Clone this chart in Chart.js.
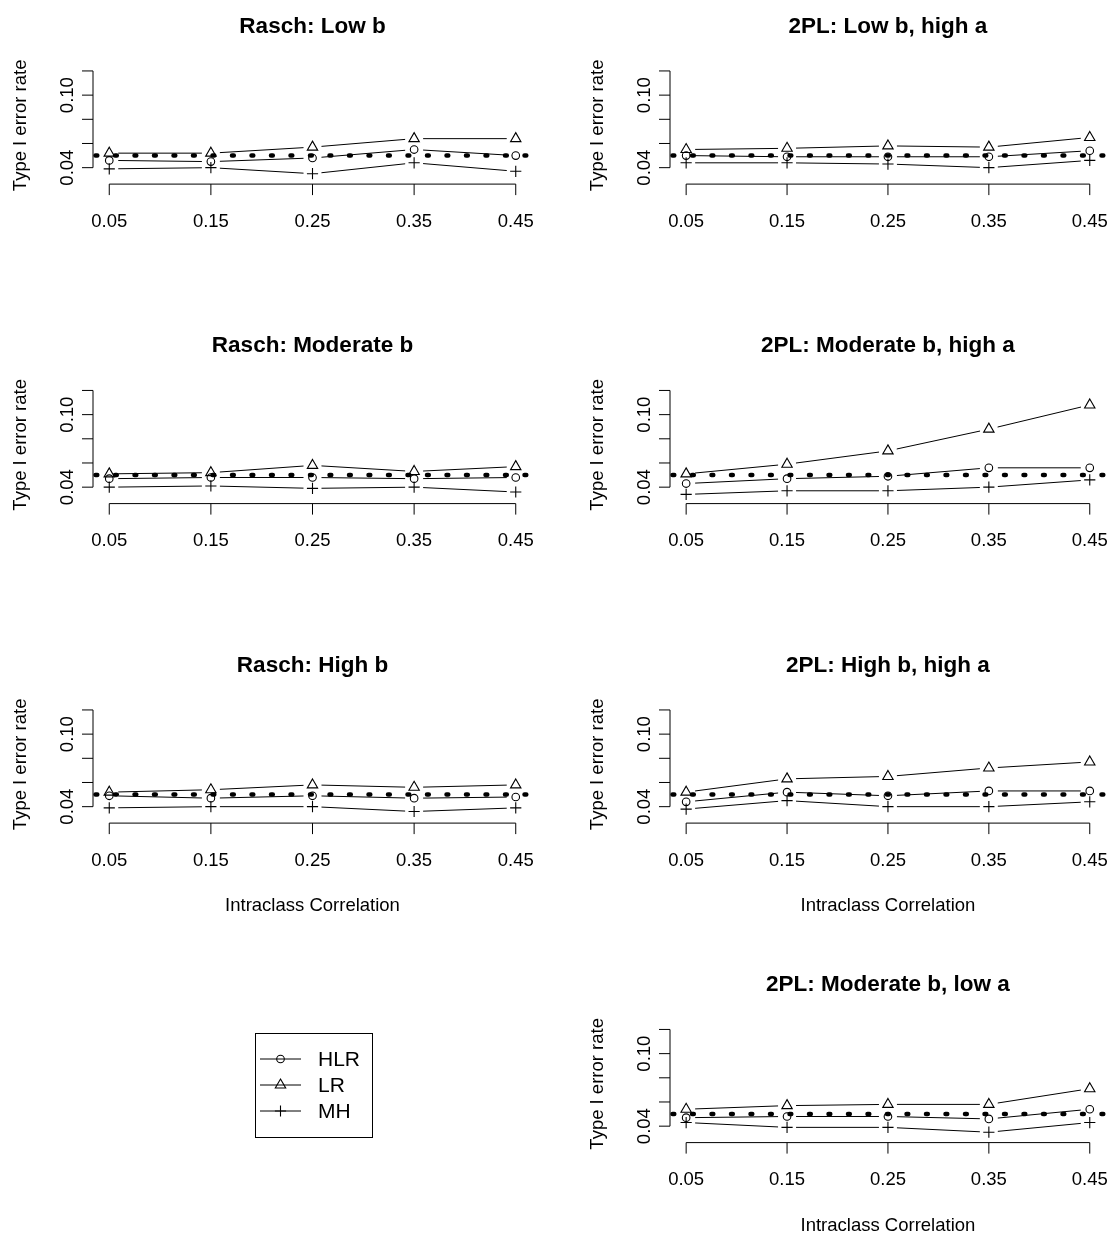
<!DOCTYPE html>
<html><head><meta charset="utf-8">
<script src="https://cdn.jsdelivr.net/npm/chart.js@4/dist/chart.umd.min.js"></script>
<style>
html,body{margin:0;padding:0;background:#fff;}
#wrap{position:relative;width:1113px;height:1234px;background:#fff;}
canvas{position:absolute;left:0;top:0;}
</style></head><body><div id="wrap"></div>
<script>
// ---- data ----
const icc = [0.05, 0.15, 0.25, 0.35, 0.45];
const xTickLabels = ['0.05', '0.15', '0.25', '0.35', '0.45'];
const yTicks = [0.04, 0.06, 0.08, 0.10, 0.12];
const yTickLabels = ['0.04', '', '', '0.10', ''];
const nominalRate = 0.05;
const seriesNames = ['HLR', 'LR', 'MH'];
const panelTitles = ['Rasch: Low b', '2PL: Low b, high a', 'Rasch: Moderate b', '2PL: Moderate b, high a',
  'Rasch: High b', '2PL: High b, high a', '2PL: Moderate b, low a'];
const yAxisTitle = 'Type I error rate';
const xAxisTitle = 'Intraclass Correlation';

const raschLowHLR = [0.046, 0.045, 0.048, 0.055, 0.050];
const raschLowLR  = [0.052, 0.052, 0.057, 0.064, 0.064];
const raschLowMH  = [0.039, 0.040, 0.035, 0.044, 0.037];

const twoLowHighHLR = [0.050, 0.049, 0.049, 0.049, 0.054];
const twoLowHighLR  = [0.055, 0.056, 0.058, 0.057, 0.065];
const twoLowHighMH  = [0.044, 0.044, 0.043, 0.040, 0.046];

const raschModHLR = [0.047, 0.048, 0.048, 0.047, 0.048];
const raschModLR  = [0.051, 0.052, 0.058, 0.053, 0.057];
const raschModMH  = [0.040, 0.041, 0.039, 0.040, 0.036];

const twoModHighHLR = [0.043, 0.047, 0.049, 0.056, 0.056];
const twoModHighLR  = [0.051, 0.059, 0.070, 0.088, 0.108];
const twoModHighMH  = [0.034, 0.037, 0.037, 0.040, 0.046];

const raschHighHLR = [0.049, 0.047, 0.049, 0.047, 0.048];
const raschHighLR  = [0.052, 0.054, 0.058, 0.056, 0.058];
const raschHighMH  = [0.039, 0.040, 0.040, 0.036, 0.039];

const twoHighHighHLR = [0.044, 0.052, 0.049, 0.053, 0.053];
const twoHighHighLR  = [0.052, 0.063, 0.065, 0.072, 0.077];
const twoHighHighMH  = [0.038, 0.045, 0.040, 0.040, 0.044];

const twoModLowHLR = [0.047, 0.048, 0.048, 0.046, 0.054];
const twoModLowLR  = [0.054, 0.057, 0.058, 0.058, 0.071];
const twoModLowMH  = [0.043, 0.039, 0.039, 0.035, 0.043];

const panelSeries = [
  [raschLowHLR, raschLowLR, raschLowMH],
  [twoLowHighHLR, twoLowHighLR, twoLowHighMH],
  [raschModHLR, raschModLR, raschModMH],
  [twoModHighHLR, twoModHighLR, twoModHighMH],
  [raschHighHLR, raschHighLR, raschHighMH],
  [twoHighHighHLR, twoHighHighLR, twoHighHighMH],
  [twoModLowHLR, twoModLowLR, twoModLowMH]
];

// ---- layout / style ----
const W = 1113, H = 1234;
const FONT = '"Liberation Sans", Arial, sans-serif';
const colX = [[93, 532], [670, 1109]];
const rowTop0 = 66.6, rowBot0 = 184.1, rowStep = 319.5;
const panelPos = [[0,0],[0,1],[1,0],[1,1],[2,0],[2,1],[3,1]];
const showXTitle = [false,false,false,false,true,true,true];
const markerStyles = [
  {pointStyle: 'circle', radius: 3.8},
  {pointStyle: 'triangle', radius: 6},
  {pointStyle: 'cross', radius: 5.6}
];
const GAP = 9;

function drawMarker(ctx, style, x, y) {
  ctx.save();
  ctx.strokeStyle = '#000';
  ctx.fillStyle = 'rgba(0,0,0,0)';
  ctx.lineWidth = 1.1;
  Chart.helpers.drawPoint(ctx, {pointStyle: style.pointStyle, radius: style.radius, rotation: 0, borderWidth: 1.1}, x, y);
  ctx.restore();
}

function makePlugin(pi) {
  return {
    id: 'rstyle' + pi,
    beforeDatasetsDraw(chart) {
      const ctx = chart.ctx;
      ctx.save();
      ctx.strokeStyle = '#000';
      ctx.lineWidth = 1;
      chart.data.datasets.forEach((ds, i) => {
        const pts = chart.getDatasetMeta(i).data;
        for (let k = 0; k < pts.length - 1; k++) {
          const a = pts[k], b = pts[k+1];
          const dx = b.x - a.x, dy = b.y - a.y, len = Math.hypot(dx, dy);
          if (len <= 2 * GAP) continue;
          const ux = dx / len, uy = dy / len;
          ctx.beginPath();
          ctx.moveTo(a.x + ux * GAP, a.y + uy * GAP);
          ctx.lineTo(b.x - ux * GAP, b.y - uy * GAP);
          ctx.stroke();
        }
      });
      ctx.restore();
    },
    afterDatasetsDraw(chart) {
      const ctx = chart.ctx;
      const xs = chart.scales.x, ys = chart.scales.y, ca = chart.chartArea;
      ctx.save();
      // nominal reference line
      ctx.strokeStyle = '#000';
      ctx.lineWidth = 4.5;
      ctx.setLineDash([1.8, 17.7]);
      ctx.lineCap = 'round';
      const yr = ys.getPixelForValue(nominalRate);
      ctx.beginPath(); ctx.moveTo(ca.left + 2.5, yr); ctx.lineTo(ca.right, yr); ctx.stroke();
      ctx.setLineDash([]);
      ctx.lineCap = 'butt';
      // y axis
      ctx.lineWidth = 1;
      const yTop = ys.getPixelForValue(yTicks[yTicks.length-1]);
      const yBot = ys.getPixelForValue(yTicks[0]);
      ctx.beginPath(); ctx.moveTo(ca.left, yTop); ctx.lineTo(ca.left, yBot); ctx.stroke();
      yTicks.forEach(v => {
        const y = ys.getPixelForValue(v);
        ctx.beginPath(); ctx.moveTo(ca.left, y); ctx.lineTo(ca.left - 11, y); ctx.stroke();
      });
      ctx.fillStyle = '#000';
      ctx.font = '18.5px ' + FONT;
      ctx.textAlign = 'center';
      ctx.textBaseline = 'alphabetic';
      yTicks.forEach((v, i) => {
        if (!yTickLabels[i]) return;
        const y = ys.getPixelForValue(v);
        ctx.save(); ctx.translate(ca.left - 20.5, y); ctx.rotate(-Math.PI/2);
        ctx.fillText(yTickLabels[i], 0, 0); ctx.restore();
      });
      // x axis
      const x0 = xs.getPixelForValue(icc[0]), x1 = xs.getPixelForValue(icc[icc.length-1]);
      ctx.beginPath(); ctx.moveTo(x0, ca.bottom); ctx.lineTo(x1, ca.bottom); ctx.stroke();
      icc.forEach((v, i) => {
        const x = xs.getPixelForValue(v);
        ctx.beginPath(); ctx.moveTo(x, ca.bottom); ctx.lineTo(x, ca.bottom + 11); ctx.stroke();
        ctx.fillText(xTickLabels[i], x, ca.bottom + 42.5);
      });
      // axis titles
      const cx = (ca.left + ca.right) / 2, cy = (ca.top + ca.bottom) / 2;
      ctx.save(); ctx.translate(ca.left - 67, cy); ctx.rotate(-Math.PI/2);
      ctx.fillText(yAxisTitle, 0, 0); ctx.restore();
      if (showXTitle[pi]) ctx.fillText(xAxisTitle, cx, ca.bottom + 88);
      // main title
      ctx.font = 'bold 22.5px ' + FONT;
      ctx.fillText(panelTitles[pi], cx, ca.top - 34);
      // legend (drawn once, with the last panel)
      if (pi === panelTitles.length - 1) {
        ctx.lineWidth = 1;
        ctx.strokeRect(255.5, 1033.5, 117, 104);
        ctx.font = '21px ' + FONT;
        ctx.textAlign = 'left';
        ctx.textBaseline = 'middle';
        seriesNames.forEach((nm, i) => {
          const y = 1059 + i * 26;
          ctx.beginPath(); ctx.moveTo(260, y); ctx.lineTo(301, y); ctx.stroke();
          drawMarker(ctx, markerStyles[i], 280.5, y);
          ctx.fillStyle = '#000';
          ctx.fillText(nm, 318, y + 1);
        });
      }
      ctx.restore();
    }
  };
}

const wrap = document.getElementById('wrap');
panelTitles.forEach((t, pi) => {
  const cv = document.createElement('canvas');
  cv.width = W; cv.height = H;
  cv.style.width = W + 'px'; cv.style.height = H + 'px';
  wrap.appendChild(cv);
  const [r, c] = panelPos[pi];
  const left = colX[c][0], right = colX[c][1];
  const top = rowTop0 + r * rowStep, bottom = rowBot0 + r * rowStep;
  const datasets = panelSeries[pi].map((vals, si) => ({
    label: seriesNames[si],
    data: vals.map((v, k) => ({x: icc[k], y: v})),
    showLine: false,
    pointStyle: markerStyles[si].pointStyle,
    pointRadius: markerStyles[si].radius,
    pointBorderColor: '#000',
    pointBackgroundColor: 'rgba(0,0,0,0)',
    pointBorderWidth: 1.1,
    borderColor: '#000'
  }));
  new Chart(cv, {
    type: 'line',
    data: {datasets},
    options: {
      responsive: false,
      animation: false,
      devicePixelRatio: 1,
      events: [],
      layout: {padding: {left: left, right: W - right, top: top, bottom: H - bottom}},
      plugins: {legend: {display: false}, tooltip: {enabled: false}, title: {display: false}},
      scales: {
        x: {type: 'linear', min: 0.034, max: 0.466, display: false},
        y: {type: 'linear', min: 0.0264, max: 0.1236, display: false}
      }
    },
    plugins: [makePlugin(pi)]
  });
});
</script>
</body></html>
